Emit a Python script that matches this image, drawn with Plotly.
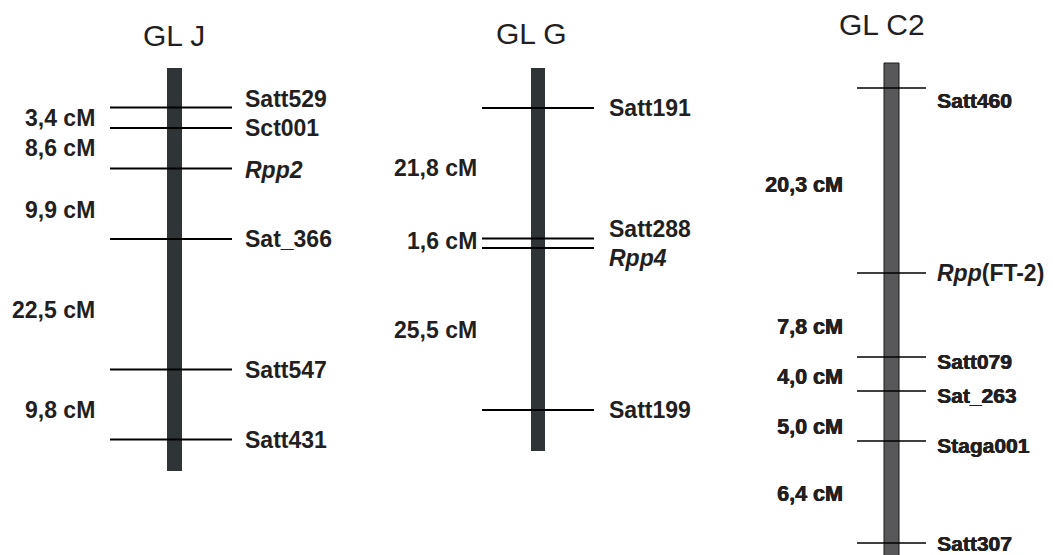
import plotly.graph_objects as go

# ---------------- data ----------------
groups = ["GL J", "GL G", "GL C2"]
group_title_pos = [35, 33, 24]

# chromosome extents (map position units, top -> bottom)
bar_top = [68, 68, 63]
bar_bottom = [471, 451, 562]

# GL J
J_markers = ["Satt529", "Sct001", "<i>Rpp2</i>", "Sat_366", "Satt547", "Satt431"]
J_pos = [107.5, 128, 168.5, 239, 369.5, 439.5]
J_label_pos = [98.5, 128, 170, 239, 370, 440]
J_intervals = ["3,4 cM", "8,6 cM", "9,9 cM", "22,5 cM", "9,8 cM"]
J_interval_pos = [118, 148, 210, 310, 410]

# GL G
G_markers = ["Satt191", "Satt288", "<i>Rpp4</i>", "Satt199"]
G_pos = [108, 238.5, 248, 410]
G_label_pos = [108, 229, 258, 410]
G_intervals = ["21,8 cM", "1,6 cM", "25,5 cM"]
G_interval_pos = [168, 241, 330]

# GL C2
C_markers = ["Satt460", "<i>Rpp</i>(FT-2)", "Satt079", "Sat_263", "Staga001", "Satt307"]
C_pos = [88, 273, 357, 391, 441, 543]
C_label_pos = [100, 273, 361, 395, 445, 543]
C_intervals = ["20,3 cM", "7,8 cM", "4,0 cM", "5,0 cM", "6,4 cM"]
C_interval_pos = [185, 327, 377, 427, 494]

# ---------------- layout / style ----------------
W, H = 1053, 555
TXT = "#231f20"
HEAVY = "0.6px 0 0 #231f20, 0 0.3px 0 #231f20"
styles = [
    dict(cx=174.5, tx=174, bw=15, lx0=110, lx1=232, labx=243, cmx=97, fill="#2f3436", outline=None,
         lw=2, fsize=23, cmsize=23, tsize=30, shadow="none"),
    dict(cx=538, tx=531, bw=14, lx0=482, lx1=594, labx=607, cmx=479, fill="#2f3436", outline=None,
         lw=2, fsize=23, cmsize=23, tsize=30, shadow="none"),
    dict(cx=891.5, tx=881.5, bw=15, lx0=857, lx1=926, labx=935, cmx=845, fill="#58585a",
         outline="#1a1a1a", lw=1.5, fsize=21, cmsize=21.5, tsize=30, shadow=HEAVY),
]
data = [
    (J_markers, J_pos, J_label_pos, J_intervals, J_interval_pos),
    (G_markers, G_pos, G_label_pos, G_intervals, G_interval_pos),
    (C_markers, C_pos, C_label_pos, C_intervals, C_interval_pos),
]

fig = go.Figure()
shapes = []
annotations = []

for gi, (name, st, (mk, pos, lpos, iv, ivpos)) in enumerate(zip(groups, styles, data)):
    # chromosome bar
    shapes.append(dict(
        type="rect", xref="x", yref="y", layer="below",
        x0=st["cx"] - st["bw"] / 2, x1=st["cx"] + st["bw"] / 2,
        y0=bar_top[gi], y1=bar_bottom[gi],
        fillcolor=st["fill"],
        line=dict(color=st["outline"] or st["fill"], width=1 if st["outline"] else 0),
    ))
    # marker lines
    xs, ys = [], []
    for p in pos:
        xs += [st["lx0"], st["lx1"], None]
        ys += [p, p, None]
    fig.add_trace(go.Scatter(x=xs, y=ys, mode="lines",
                             line=dict(color="#000000", width=st["lw"]),
                             hoverinfo="skip", showlegend=False))
    # marker labels
    for m, lp in zip(mk, lpos):
        fs = st["fsize"]
        sh = st["shadow"]
        if gi == 2 and "Rpp" in m:
            fs, sh = 23, "none"
        annotations.append(dict(
            x=st["labx"], y=lp, xref="x", yref="y", text=f"<b>{m}</b>",
            showarrow=False, xanchor="left", yanchor="middle",
            font=dict(family="Liberation Sans, Arial, sans-serif", size=fs, color=TXT, shadow=sh),
        ))
    # interval labels
    for t, ip in zip(iv, ivpos):
        annotations.append(dict(
            x=st["cmx"], y=ip, xref="x", yref="y", text=f"<b>{t}</b>",
            showarrow=False, xanchor="right", yanchor="middle",
            font=dict(family="Liberation Sans, Arial, sans-serif", size=st["cmsize"], color=TXT,
                      shadow=st["shadow"]),
        ))
    # title
    annotations.append(dict(
        x=st["tx"], y=group_title_pos[gi],
        xref="x", yref="y", text=name, showarrow=False,
        xanchor="center", yanchor="middle",
        font=dict(family="Liberation Sans, Arial, sans-serif", size=st["tsize"], color=TXT),
    ))

fig.update_layout(
    width=W, height=H,
    margin=dict(l=0, r=0, t=0, b=0),
    paper_bgcolor="white", plot_bgcolor="white",
    xaxis=dict(range=[0, W], visible=False, fixedrange=True),
    yaxis=dict(range=[H, 0], visible=False, fixedrange=True),
    shapes=shapes, annotations=annotations,
    showlegend=False,
)

fig.write_html(
    "out.html",
    config={"displayModeBar": False},
    post_script="document.body.style.margin='0';document.body.style.overflow='hidden';",
)
